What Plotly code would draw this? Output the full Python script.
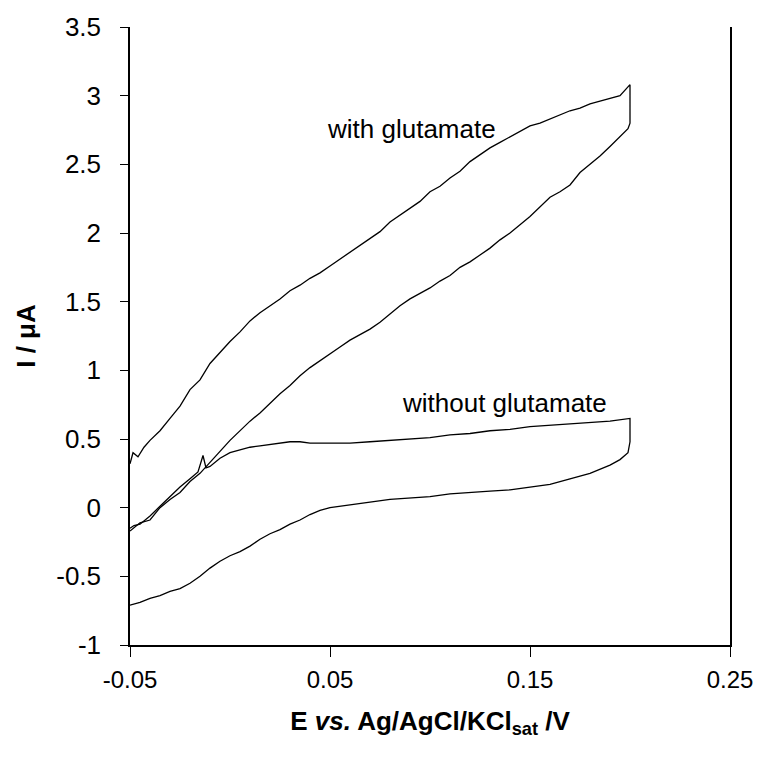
import plotly.graph_objects as go

# ---- data ----
# with glutamate: forward (upper) branch, E in V, I in uA
glu_fwd_E = [-0.05, -0.0485, -0.046, -0.043, -0.04, -0.035, -0.03, -0.025, -0.02, -0.015,
             -0.01, -0.005, 0.0, 0.005, 0.01, 0.015, 0.02, 0.025, 0.03, 0.035,
             0.04, 0.045, 0.05, 0.055, 0.06, 0.065, 0.07, 0.075, 0.08, 0.085,
             0.09, 0.095, 0.1, 0.105, 0.11, 0.115, 0.12, 0.125, 0.13, 0.135,
             0.14, 0.145, 0.15, 0.155, 0.16, 0.165, 0.17, 0.175, 0.18, 0.185,
             0.19, 0.195, 0.2]
glu_fwd_I = [0.32, 0.40, 0.37, 0.44, 0.49, 0.56, 0.65, 0.74, 0.86, 0.93,
             1.05, 1.13, 1.21, 1.28, 1.36, 1.42, 1.47, 1.52, 1.58, 1.62,
             1.67, 1.71, 1.76, 1.81, 1.86, 1.91, 1.96, 2.01, 2.08, 2.13,
             2.18, 2.23, 2.30, 2.34, 2.40, 2.45, 2.52, 2.57, 2.62, 2.66,
             2.70, 2.74, 2.78, 2.80, 2.83, 2.86, 2.89, 2.91, 2.94, 2.96,
             2.98, 3.00, 3.08]
# with glutamate: reverse (lower) branch
glu_rev_E = [0.2, 0.2, 0.199, 0.195, 0.19, 0.185, 0.18, 0.175, 0.17, 0.165,
             0.16, 0.155, 0.15, 0.145, 0.14, 0.135, 0.13, 0.125, 0.12, 0.115,
             0.11, 0.105, 0.1, 0.095, 0.09, 0.085, 0.08, 0.075, 0.07, 0.065,
             0.06, 0.055, 0.05, 0.045, 0.04, 0.035, 0.03, 0.025, 0.02, 0.015,
             0.01, 0.005, 0.0, -0.005, -0.01, -0.015, -0.02, -0.025, -0.03, -0.035,
             -0.04, -0.045, -0.05]
glu_rev_I = [2.85, 2.80, 2.76, 2.70, 2.63, 2.56, 2.50, 2.44, 2.35, 2.30,
             2.26, 2.19, 2.12, 2.06, 2.00, 1.95, 1.89, 1.84, 1.79, 1.75,
             1.69, 1.65, 1.60, 1.56, 1.52, 1.47, 1.41, 1.35, 1.30, 1.26,
             1.22, 1.17, 1.12, 1.07, 1.02, 0.96, 0.89, 0.83, 0.76, 0.69,
             0.63, 0.56, 0.49, 0.41, 0.33, 0.25, 0.19, 0.11, 0.06, 0.00,
             -0.09, -0.11, -0.17]

# without glutamate: forward (upper) branch
blank_fwd_E = [-0.05, -0.048, -0.045, -0.04, -0.035, -0.03, -0.025, -0.02, -0.016, -0.0135,
               -0.012, -0.01, -0.005, 0.0, 0.005, 0.01, 0.015, 0.02, 0.025, 0.03,
               0.035, 0.04, 0.05, 0.06, 0.07, 0.08, 0.09, 0.1, 0.11, 0.12,
               0.13, 0.14, 0.15, 0.16, 0.17, 0.18, 0.19, 0.2]
blank_fwd_I = [-0.15, -0.13, -0.12, -0.06, 0.01, 0.08, 0.15, 0.21, 0.26, 0.38,
               0.29, 0.30, 0.36, 0.40, 0.42, 0.44, 0.45, 0.46, 0.47, 0.48,
               0.48, 0.47, 0.47, 0.47, 0.48, 0.49, 0.50, 0.51, 0.53, 0.54,
               0.56, 0.57, 0.59, 0.60, 0.61, 0.62, 0.63, 0.65]
# without glutamate: reverse (lower) branch
blank_rev_E = [0.2, 0.199, 0.195, 0.19, 0.185, 0.18, 0.17, 0.16, 0.15, 0.14,
               0.13, 0.12, 0.11, 0.1, 0.09, 0.08, 0.07, 0.06, 0.05, 0.045,
               0.04, 0.035, 0.03, 0.025, 0.02, 0.015, 0.01, 0.005, 0.0, -0.005,
               -0.01, -0.015, -0.02, -0.025, -0.03, -0.035, -0.04, -0.045, -0.05]
blank_rev_I = [0.48, 0.40, 0.35, 0.31, 0.28, 0.25, 0.21, 0.17, 0.15, 0.13,
               0.12, 0.11, 0.10, 0.08, 0.07, 0.06, 0.04, 0.02, 0.00, -0.02,
               -0.05, -0.09, -0.12, -0.16, -0.19, -0.23, -0.28, -0.32, -0.35, -0.39,
               -0.44, -0.50, -0.55, -0.59, -0.61, -0.64, -0.66, -0.69, -0.71]

x_tick_vals = [-0.05, 0.05, 0.15, 0.25]
x_tick_text = ["-0.05", "0.05", "0.15", "0.25"]
y_tick_vals = [-1, -0.5, 0, 0.5, 1, 1.5, 2, 2.5, 3, 3.5]
y_tick_text = ["-1", "-0.5", "0", "0.5", "1", "1.5", "2", "2.5", "3", "3.5"]

labels = ["with glutamate", "without glutamate"]
label_E = [0.0905, 0.137]
label_I = [2.76, 0.76]

FONT = "Liberation Sans, Arial, sans-serif"

fig = go.Figure()
fig.add_trace(go.Scatter(x=glu_fwd_E + glu_rev_E, y=glu_fwd_I + glu_rev_I,
                         mode="lines", line=dict(color="black", width=1.3),
                         showlegend=False, hoverinfo="skip"))
fig.add_trace(go.Scatter(x=blank_fwd_E + blank_rev_E, y=blank_fwd_I + blank_rev_I,
                         mode="lines", line=dict(color="black", width=1.3),
                         showlegend=False, hoverinfo="skip"))

for t, xe, yi in zip(labels, label_E, label_I):
    fig.add_annotation(x=xe, y=yi, text=t, showarrow=False,
                       font=dict(family=FONT, size=26, color="black"))

fig.update_layout(
    width=765, height=763,
    margin=dict(l=130, r=35, t=17, b=118),
    plot_bgcolor="white", paper_bgcolor="white",
    font=dict(family=FONT, color="black"),
    xaxis=dict(range=[-0.05, 0.25], tickvals=x_tick_vals, ticktext=x_tick_text,
               showgrid=False, zeroline=False, showline=True, linecolor="black",
               linewidth=1.5, ticks="outside", ticklen=10, tickwidth=1,
               tickcolor="black", tickfont=dict(size=24, family=FONT),
               ticklabelstandoff=2,
               title=dict(text="<b>E <i>vs.</i> Ag/AgCl/KCl<sub>sat</sub> /V</b>",
                          font=dict(size=26, family=FONT), standoff=20)),
    yaxis=dict(range=[-1, 3.5], tickvals=y_tick_vals, ticktext=y_tick_text,
               showgrid=False, zeroline=False, showline=True, linecolor="black",
               linewidth=1.5, mirror=True, ticks="outside", ticklen=8, tickwidth=1,
               tickcolor="black", tickfont=dict(size=26, family=FONT),
               ticklabelstandoff=14,
               title=dict(text="<b>I / μA</b>", font=dict(size=26, family=FONT),
                          standoff=13)),
)

fig.write_html("out.html")
